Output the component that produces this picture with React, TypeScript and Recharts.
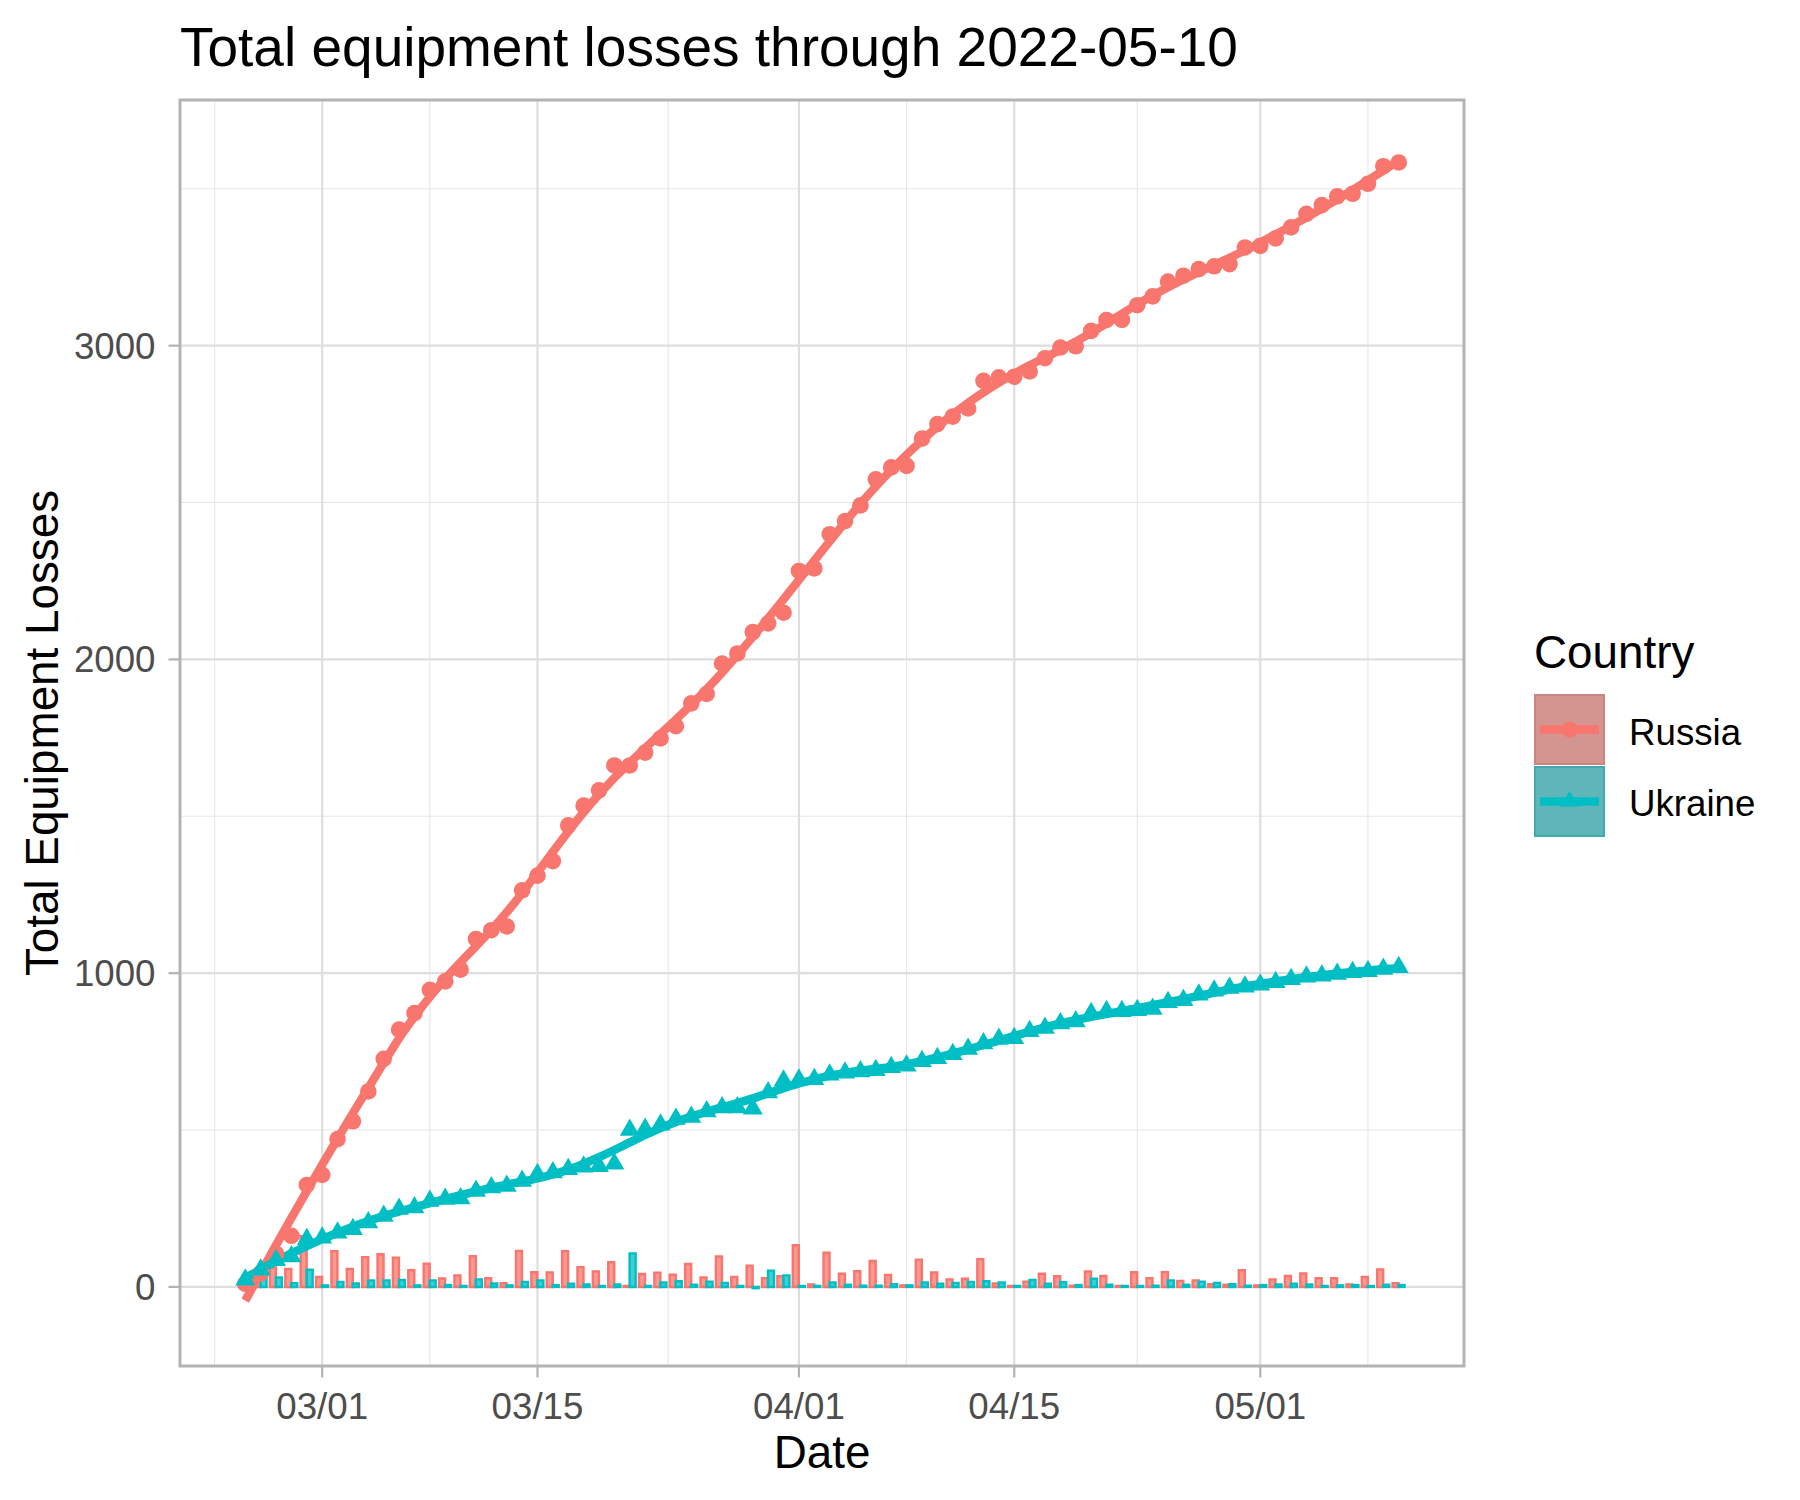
import React from 'react';
import {
  ComposedChart,
  Bar,
  Line,
  Scatter,
  XAxis,
  YAxis,
  CartesianGrid,
  ReferenceArea,
} from 'recharts';

const RU = '#F8766D';
const UA = '#00BFC4';
const FONT = '"Liberation Sans", Arial, Helvetica, sans-serif';

// day index since 2022-02-24
const days = Array.from({ length: 76 }, (_, i) => i);

// cumulative totals
const russiaTotal = [
  10, 44, 106, 163, 325, 357, 471, 528, 623, 727,
  820, 873, 947, 974, 1011, 1109, 1137, 1149, 1264, 1311,
  1357, 1471, 1534, 1583, 1662, 1662, 1703, 1748, 1787, 1860,
  1890, 1987, 2019, 2087, 2115, 2149, 2282, 2290, 2399, 2441,
  2491, 2574, 2612, 2617, 2704, 2750, 2774, 2800, 2888, 2899,
  2901, 2918, 2960, 2994, 2998, 3047, 3082, 3082, 3129, 3157,
  3204, 3223, 3244, 3253, 3260, 3313, 3318, 3342, 3377, 3420,
  3448, 3476, 3484, 3516, 3572, 3584,
];
const ukraineTotal = [
  23, 55, 85, 97, 152, 157, 173, 184, 205, 226,
  248, 253, 274, 280, 282, 306, 317, 322, 338, 359,
  365, 375, 383, 385, 393, 500, 503, 517, 535, 542,
  559, 572, 572, 568, 620, 657, 660, 662, 676, 683,
  687, 691, 700, 705, 719, 729, 742, 758, 776, 790,
  793, 815, 825, 840, 846, 872, 879, 879, 882, 886,
  907, 914, 931, 944, 953, 957, 963, 971, 981, 989,
  992, 997, 1003, 1006, 1013, 1019,
];

const xTicks = [5, 19, 36, 50, 66];
const xTickLabels = ['03/01', '03/15', '04/01', '04/15', '05/01'];
const xMinor = [-2, 12, 27.5, 43, 58, 73];
const yTicks = [0, 1000, 2000, 3000];
const yMinor = [500, 1500, 2500, 3500];
const X_DOMAIN: [number, number] = [-4.245, 79.245];
const Y_DOMAIN: [number, number] = [-252, 3783];

const daily = (tot: number[]) => tot.map((v, i) => (i === 0 ? v : v - tot[i - 1]));
const russiaDaily = daily(russiaTotal);
const ukraineDaily = daily(ukraineTotal);

// local quadratic regression (like geom_smooth's loess)
function loess(xs: number[], ys: number[], span: number, at: number[]) {
  const n = xs.length;
  const q = Math.floor(n * span);
  return at.map((x0) => {
    const d = xs.map((x) => Math.abs(x - x0));
    const h = [...d].sort((a, b) => a - b)[q - 1] * 1.0001;
    const A = [
      [0, 0, 0],
      [0, 0, 0],
      [0, 0, 0],
    ];
    const B = [0, 0, 0];
    for (let i = 0; i < n; i++) {
      const r = d[i] / h;
      if (r >= 1) continue;
      const w = Math.pow(1 - r * r * r, 3);
      const u = (xs[i] - x0) / h;
      const b = [1, u, u * u];
      for (let j = 0; j < 3; j++) {
        B[j] += w * b[j] * ys[i];
        for (let k = 0; k < 3; k++) A[j][k] += w * b[j] * b[k];
      }
    }
    for (let c = 0; c < 3; c++) {
      let p = c;
      for (let r = c + 1; r < 3; r++) if (Math.abs(A[r][c]) > Math.abs(A[p][c])) p = r;
      [A[c], A[p]] = [A[p], A[c]];
      [B[c], B[p]] = [B[p], B[c]];
      for (let r = c + 1; r < 3; r++) {
        const f = A[r][c] / A[c][c];
        for (let k = c; k < 3; k++) A[r][k] -= f * A[c][k];
        B[r] -= f * B[c];
      }
    }
    const s = [0, 0, 0];
    for (let r = 2; r >= 0; r--) {
      let acc = B[r];
      for (let k = r + 1; k < 3; k++) acc -= A[r][k] * s[k];
      s[r] = acc / A[r][r];
    }
    return s[0];
  });
}

const SPAN = 0.28;
const russiaSmooth = loess(days, russiaTotal, SPAN, days).map((v, i) => ({ day: days[i], v }));
const ukraineSmooth = loess(days, ukraineTotal, SPAN, days).map((v, i) => ({ day: days[i], v }));

const rows = days.map((d, i) => ({ day: d, ru: russiaDaily[i], ua: ukraineDaily[i] }));
const russiaPoints = days.map((d, i) => ({ day: d, v: russiaTotal[i] }));
const ukrainePoints = days.map((d, i) => ({ day: d, v: ukraineTotal[i] }));

const CircleShape = (p: any) => <circle cx={p.cx} cy={p.cy} r={8.3} fill={RU} />;
const TriangleShape = (p: any) => {
  const r = 11.5;
  const hw = r * 0.866;
  return (
    <path
      d={`M${p.cx},${p.cy - r}L${p.cx + hw},${p.cy + r / 2}L${p.cx - hw},${p.cy + r / 2}Z`}
      fill={UA}
    />
  );
};

const tickStyle = { fontSize: 36.7, fill: '#4D4D4D', fontFamily: FONT };
const tickLine = { stroke: '#B3B3B3', strokeWidth: 2.2 };

export default function App() {
  return (
    <div style={{ position: 'absolute', left: 0, top: 0, width: 1800, height: 1500, background: '#fff' }}>
      <ComposedChart
        width={1800}
        height={1500}
        data={rows}
        margin={{ top: 100, right: 336, bottom: 0, left: 0 }}
        barCategoryGap="10%"
        barGap={0}
      >
        <CartesianGrid
          verticalValues={xMinor}
          horizontalValues={yMinor}
          stroke="#E6E6E6"
          strokeWidth={1.1}
        />
        <CartesianGrid
          verticalValues={xTicks}
          horizontalValues={yTicks}
          stroke="#DEDEDE"
          strokeWidth={2.2}
        />
        <XAxis
          dataKey="day"
          type="number"
          domain={X_DOMAIN}
          ticks={xTicks}
          interval={0}
          tickFormatter={(v: number) => xTickLabels[xTicks.indexOf(v)] ?? ''}
          height={134}
          axisLine={false}
          tickLine={tickLine}
          tickSize={11.5}
          tickMargin={15}
          tick={tickStyle}
        />
        <YAxis
          type="number"
          domain={Y_DOMAIN}
          ticks={yTicks}
          interval={0}
          width={180}
          axisLine={false}
          tickLine={tickLine}
          tickSize={11.5}
          tickMargin={13}
          tick={tickStyle}
        />
        <Bar
          dataKey="ru"
          fill={RU}
          fillOpacity={0.75}
          stroke={RU}
          strokeWidth={2.4}
          minPointSize={1}
          isAnimationActive={false}
        />
        <Bar
          dataKey="ua"
          fill={UA}
          fillOpacity={0.75}
          stroke={UA}
          strokeWidth={2.4}
          minPointSize={1}
          isAnimationActive={false}
        />
        <Scatter data={russiaPoints} dataKey="v" shape={CircleShape} isAnimationActive={false} />
        <Scatter data={ukrainePoints} dataKey="v" shape={TriangleShape} isAnimationActive={false} />
        <Line
          data={russiaSmooth}
          dataKey="v"
          type="monotone"
          stroke={RU}
          strokeWidth={8.5}
          dot={false}
          isAnimationActive={false}
        />
        <Line
          data={ukraineSmooth}
          dataKey="v"
          type="monotone"
          stroke={UA}
          strokeWidth={8.5}
          dot={false}
          isAnimationActive={false}
        />
        <ReferenceArea
          x1={X_DOMAIN[0]}
          x2={X_DOMAIN[1]}
          y1={Y_DOMAIN[0]}
          y2={Y_DOMAIN[1]}
          fill="none"
          stroke="#B3B3B3"
          strokeWidth={3}
          ifOverflow="visible"
        />
      </ComposedChart>
      <svg
        width={1800}
        height={1500}
        style={{ position: 'absolute', left: 0, top: 0, pointerEvents: 'none' }}
        fontFamily={FONT}
      >
        <text x={180} y={66} fontSize={55} fill="#000">
          Total equipment losses through 2022-05-10
        </text>
        <text x={822} y={1468} fontSize={45.8} fill="#000" textAnchor="middle">
          Date
        </text>
        <text
          x={0}
          y={0}
          fontSize={45.8}
          fill="#000"
          textAnchor="middle"
          transform="translate(58,733) rotate(-90)"
        >
          Total Equipment Losses
        </text>
        <text x={1534} y={668} fontSize={45.8} fill="#000">
          Country
        </text>
        <rect x={1535} y={695} width={69} height={69} fill="#D4948F" stroke="#CB8580" strokeWidth={2} />
        <circle cx={1569.5} cy={729.5} r={8} fill={RU} />
        <line x1={1540} x2={1599} y1={729.5} y2={729.5} stroke={RU} strokeWidth={8.5} />
        <rect x={1535} y={767} width={69} height={69} fill="#5FB5B7" stroke="#3FABAE" strokeWidth={2} />
        <path d="M1569.5,791L1579,806.5L1560,806.5Z" fill={UA} />
        <line x1={1540} x2={1599} y1={801.5} y2={801.5} stroke={UA} strokeWidth={8.5} />
        <text x={1629} y={745} fontSize={36.7} fill="#000">
          Russia
        </text>
        <text x={1629} y={816} fontSize={36.7} fill="#000">
          Ukraine
        </text>
      </svg>
    </div>
  );
}
